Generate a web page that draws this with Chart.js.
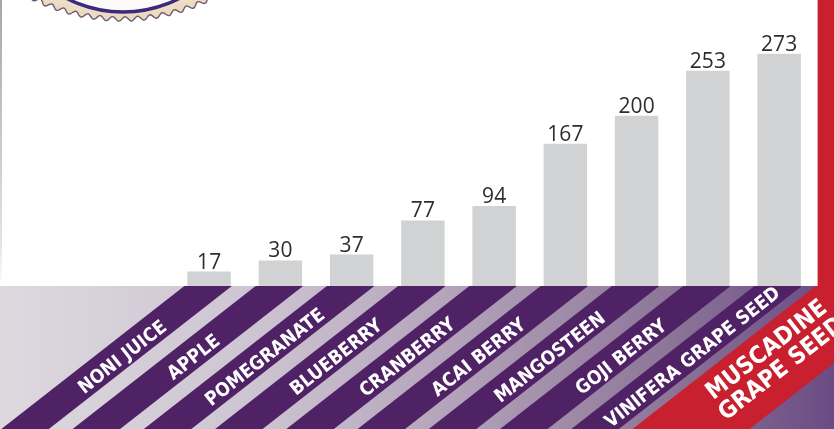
<!DOCTYPE html>
<html>
<head>
<meta charset="utf-8">
<script src="https://cdn.jsdelivr.net/npm/chart.js@4"></script>
<style>
    html, body { margin: 0; padding: 0; background: #fff; overflow: hidden; }
    #wrap { width: 886px; height: 429px; position: relative; }
</style>
</head>
<body>
<div id="wrap"><canvas id="oracChart"></canvas></div>
<script>
// Chart data
const CATEGORIES = [
    'NONI JUICE', 'APPLE', 'POMEGRANATE', 'BLUEBERRY', 'CRANBERRY',
    'ACAI BERRY', 'MANGOSTEEN', 'GOJI BERRY', 'VINIFERA GRAPE SEED',
    ['MUSCADINE', 'GRAPE SEED']
];
const VALUES = [17, 30, 37, 77, 94, 167, 200, 253, 273, null];
// muscadine bar runs off the top of the picture, its value is not shown
const FEATURED = [null, null, null, null, null, null, null, null, null, 1100];
const Y_MIN = 0;
const Y_MAX = 336;

// Colours
const BAR_GRAY = '#d1d2d4';
const FEATURE_RED = '#c8202e';
const STRIPE_PURPLE = '#4f2165';
const LABEL_ANGLE = 38 * Math.PI / 180;

// Decorations: label band, stripes, labels, value labels, badge
const decorPlugin = {
    id: 'decor',
    afterDraw(chart) {
        const ctx = chart.ctx;
        const area = chart.chartArea;
        const top = area.bottom;
        const bottom = chart.height;
        const slope = 1 / Math.tan(LABEL_ANGLE);
        const grayBars = chart.getDatasetMeta(0).data;
        const redBars = chart.getDatasetMeta(1).data;

        ctx.save();

        // band background
        const grad = ctx.createLinearGradient(0, 0, 834, 0);
        grad.addColorStop(0, '#ddd9df');
        grad.addColorStop(0.3, '#cec5d2');
        grad.addColorStop(0.55, '#b2a2b9');
        grad.addColorStop(0.8, '#8d7698');
        grad.addColorStop(1, '#6a4b84');
        ctx.fillStyle = grad;
        ctx.fillRect(0, top, chart.width, bottom - top);

        const drawStripe = (left, right, color) => {
            const shift = slope * (bottom - top);
            ctx.beginPath();
            ctx.moveTo(left, top);
            ctx.lineTo(right, top);
            ctx.lineTo(right - shift, bottom);
            ctx.lineTo(left - shift, bottom);
            ctx.closePath();
            ctx.fillStyle = color;
            ctx.fill();
        };

        // purple stripes under the gray bars
        grayBars.forEach((bar, i) => {
            if (VALUES[i] === null) return;
            drawStripe(bar.x - bar.width / 2 - 3, bar.x + bar.width / 2 + 1, STRIPE_PURPLE);
        });
        // red stripe for the featured bar
        const red = redBars[9];
        drawStripe(red.x - red.width / 2 - 2, red.x - red.width / 2 + 115, FEATURE_RED);

        // category labels along the stripes
        ctx.fillStyle = '#ffffff';
        ctx.textAlign = 'center';
        ctx.textBaseline = 'middle';
        const labelY = 358;
        CATEGORIES.forEach((label, i) => {
            const x0 = chart.scales.x.getPixelForValue(i);
            ctx.save();
            if (Array.isArray(label)) {
                ctx.font = 'bold 24px "Liberation Sans Narrow", "DejaVu Sans Condensed", sans-serif';
                ctx.translate(x0 - 76, labelY + 2);
                ctx.rotate(-LABEL_ANGLE);
                ctx.fillText(label[0], 0, -12);
                ctx.fillText(label[1], 0, 12);
            } else {
                ctx.font = 'bold 19px "Liberation Sans Narrow", "DejaVu Sans Condensed", sans-serif';
                ctx.translate(x0 + 6 - slope * (labelY - top), labelY);
                ctx.rotate(-LABEL_ANGLE);
                ctx.fillText(label, 0, 0);
            }
            ctx.restore();
        });

        // value labels above the bars
        ctx.fillStyle = '#2e2e2e';
        ctx.font = '21px "Open Sans", sans-serif';
        ctx.textBaseline = 'alphabetic';
        grayBars.forEach((bar, i) => {
            if (VALUES[i] === null) return;
            ctx.fillText(String(VALUES[i]), bar.x, bar.y - 3);
        });

        // faint left border
        const edge = ctx.createLinearGradient(0, 0, 0, top);
        edge.addColorStop(0, '#a9a5ab');
        edge.addColorStop(0.85, '#e4e2e5');
        edge.addColorStop(1, '#ffffff');
        ctx.fillStyle = edge;
        ctx.fillRect(0, 0, 2, top);

        // badge peeking in at the top left
        const cx = 122, cy = -181, r = 200;
        ctx.beginPath();
        for (let a = 0; a <= Math.PI * 2 + 0.001; a += 0.004) {
            const rr = r + 2.2 * Math.sin(a * 100);
            const px = cx + rr * Math.cos(a);
            const py = cy + rr * Math.sin(a);
            if (a === 0) ctx.moveTo(px, py); else ctx.lineTo(px, py);
        }
        ctx.closePath();
        const badge = ctx.createRadialGradient(cx, cy, 150, cx, cy, r);
        badge.addColorStop(0, '#fbf8f3');
        badge.addColorStop(1, '#ebd9bd');
        ctx.fillStyle = badge;
        ctx.fill();
        ctx.strokeStyle = '#6c5d72';
        ctx.lineWidth = 1.4;
        ctx.stroke();

        ctx.beginPath();
        ctx.arc(123, -111, 123, 0, Math.PI * 2);
        ctx.fillStyle = '#fdfbfa';
        ctx.fill();
        ctx.strokeStyle = '#3b2a7d';
        ctx.lineWidth = 3.5;
        ctx.stroke();

        ctx.restore();
    }
};

// Build chart
const ctx = document.getElementById('oracChart').getContext('2d');
const oracChart = new Chart(ctx, {
    type: 'bar',
    data: {
        labels: CATEGORIES,
        datasets: [
            {
                data: VALUES,
                backgroundColor: BAR_GRAY,
                borderWidth: 0,
                barPercentage: 0.61,
                categoryPercentage: 1,
                grouped: false
            },
            {
                data: FEATURED,
                backgroundColor: FEATURE_RED,
                borderWidth: 0,
                barPercentage: 0.92,
                categoryPercentage: 1,
                grouped: false
            }
        ]
    },
    options: {
        responsive: true,
        maintainAspectRatio: false,
        animation: false,
        layout: {
            padding: { left: 173.5, right: 0, top: 0, bottom: 143 }
        },
        plugins: {
            legend: { display: false },
            tooltip: { enabled: false }
        },
        scales: {
            x: { display: false },
            y: { display: false, min: Y_MIN, max: Y_MAX }
        }
    },
    plugins: [decorPlugin]
});
</script>
</body>
</html>
